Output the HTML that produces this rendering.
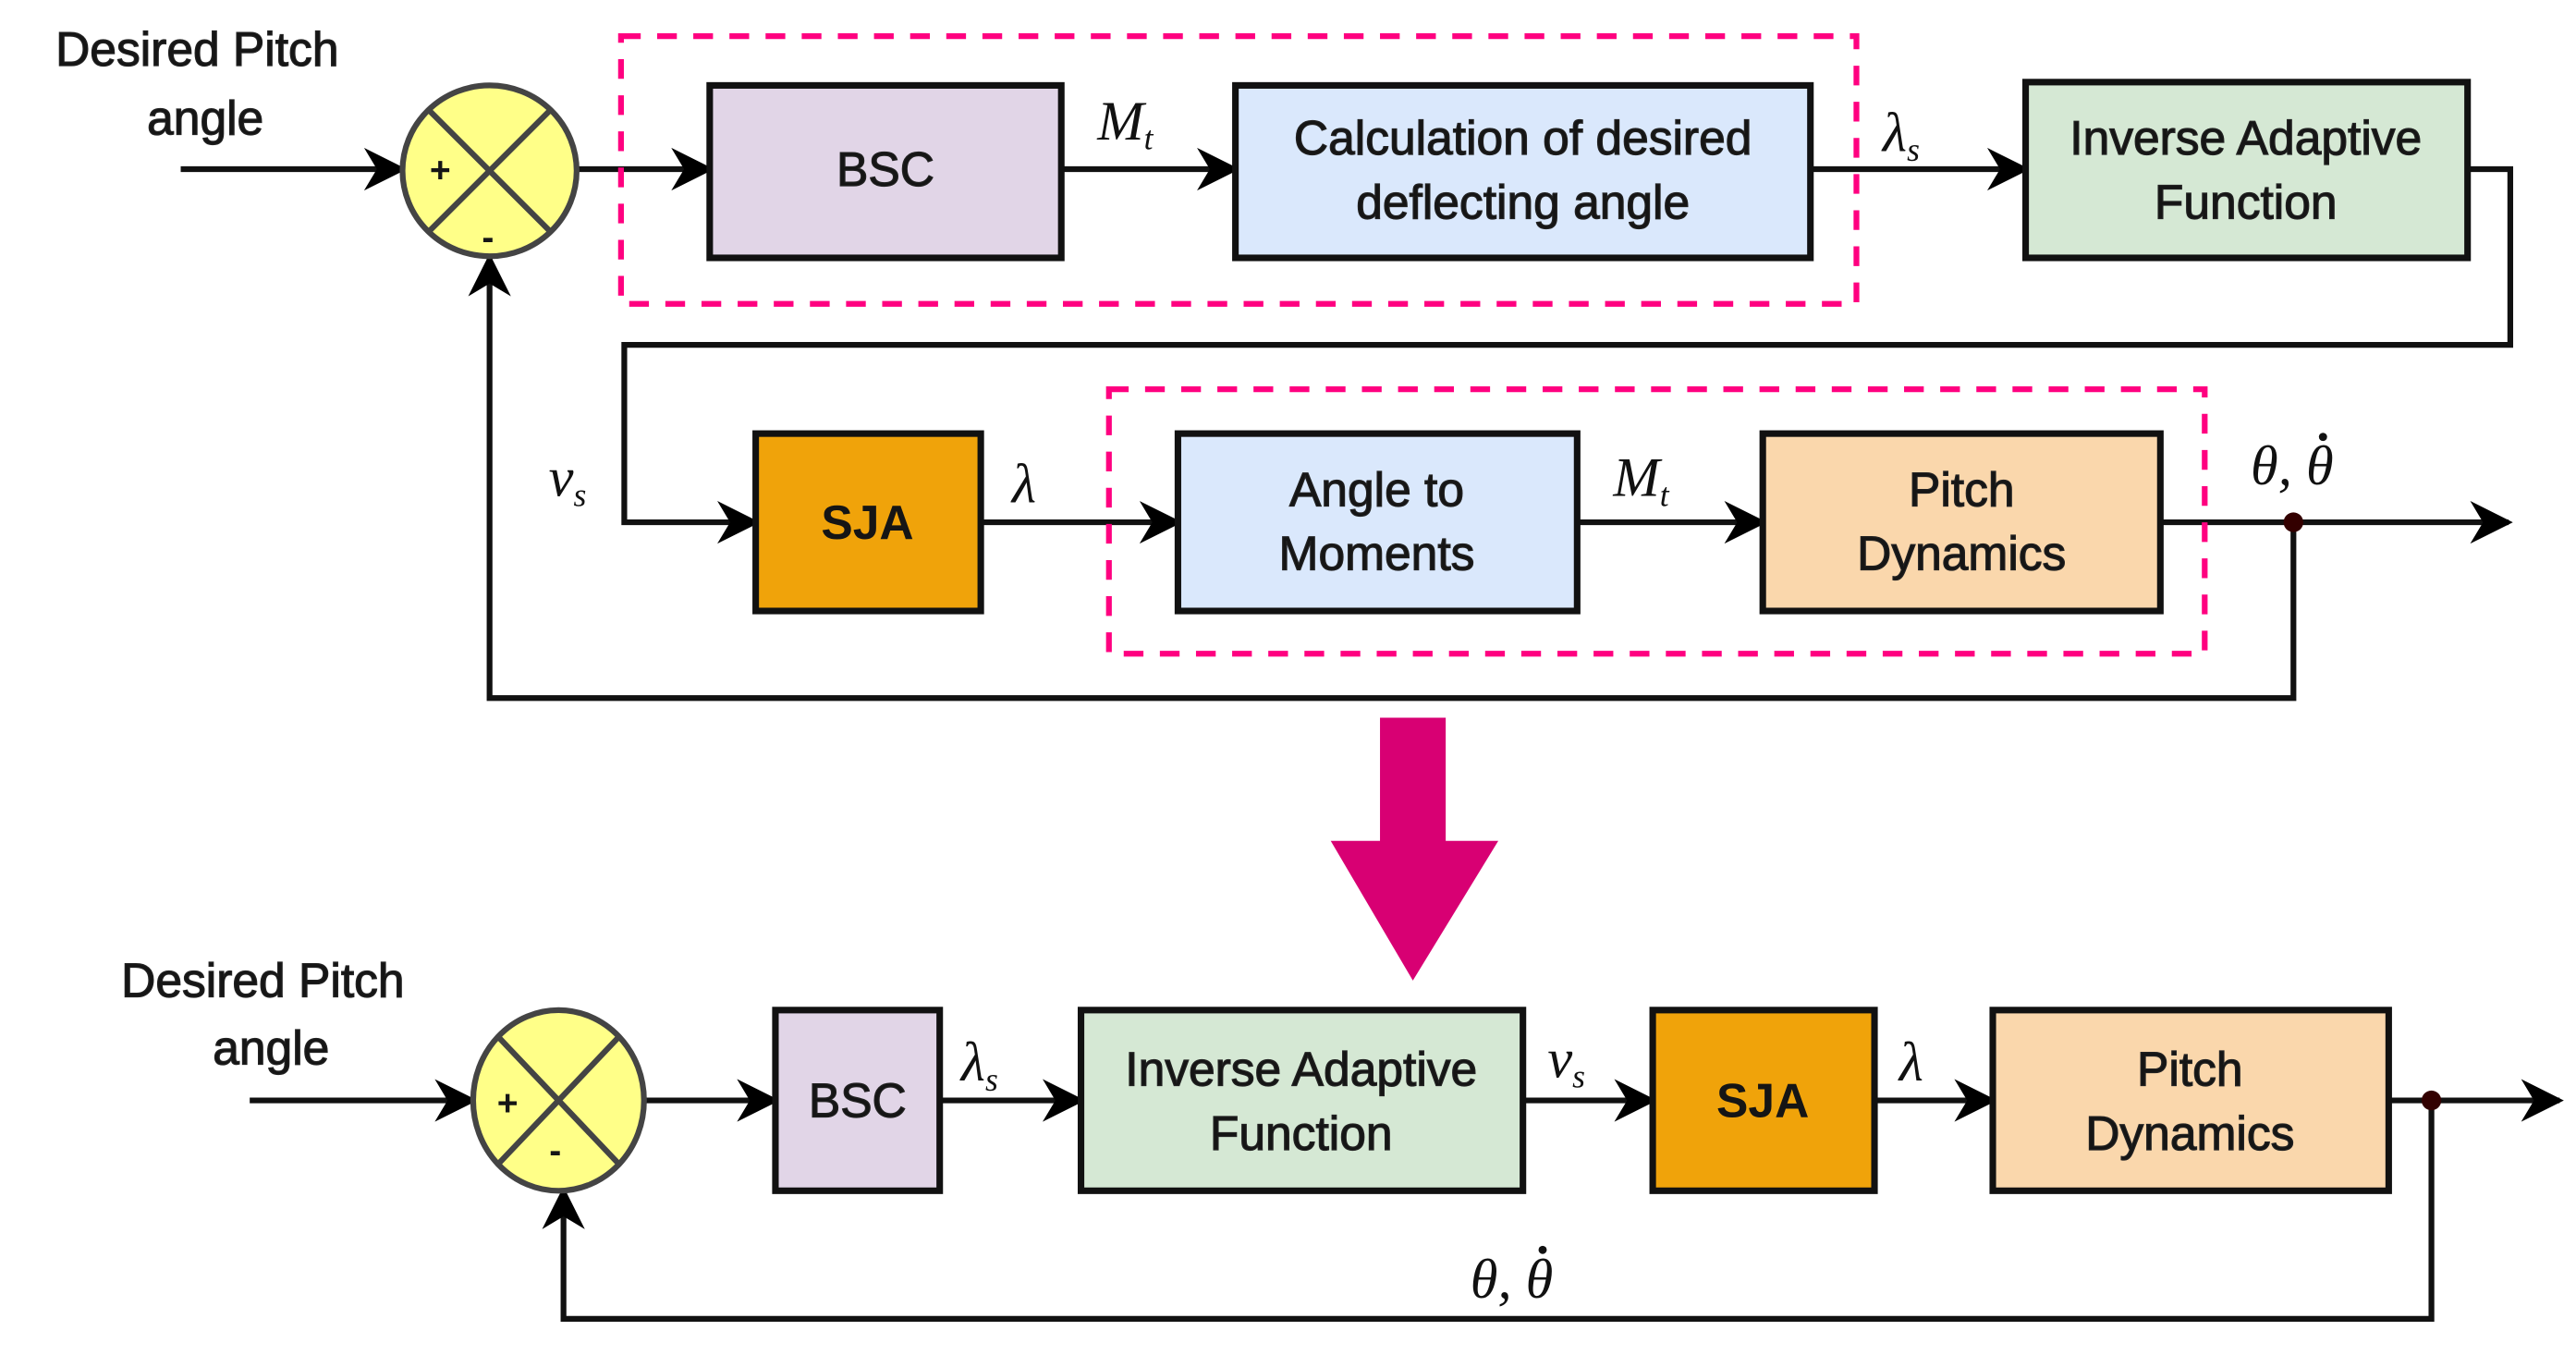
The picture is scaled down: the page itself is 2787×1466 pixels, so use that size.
<!DOCTYPE html>
<html><head><meta charset="utf-8"><style>
html,body{margin:0;padding:0;background:#fff;}
svg{display:block;}
text{font-family:"Liberation Sans",sans-serif;fill:#151515;}
.m{font-family:"Liberation Serif",serif;font-style:italic;fill:#111;}
</style></head><body>
<svg width="2787" height="1466" viewBox="0 0 1568 825" preserveAspectRatio="none" xmlns="http://www.w3.org/2000/svg">
<defs>
<marker id="b" viewBox="0 0 20 20" refX="18" refY="10" markerWidth="26" markerHeight="26" markerUnits="userSpaceOnUse" orient="auto">
<path d="M0,0 L20,10 L0,20 L6,10 Z" fill="#000"/></marker>
</defs>
<g stroke="#111" stroke-width="3.5" fill="none">
<line x1="110" y1="103" x2="245" y2="103" marker-end="url(#b)"/>
<line x1="352" y1="103" x2="432" y2="103" marker-end="url(#b)"/>
<line x1="646" y1="103" x2="752" y2="103" marker-end="url(#b)"/>
<line x1="1102" y1="103" x2="1233" y2="103" marker-end="url(#b)"/>
<polyline points="1502,103 1528,103 1528,210 380,210 380,318 460,318" marker-end="url(#b)"/>
<line x1="597" y1="318" x2="717" y2="318" marker-end="url(#b)"/>
<line x1="960" y1="318" x2="1073" y2="318" marker-end="url(#b)"/>
<line x1="1315" y1="318" x2="1527" y2="318" marker-end="url(#b)"/>
<polyline points="1396,318 1396,425 298,425 298,157" marker-end="url(#b)"/>
<line x1="152" y1="670" x2="288" y2="670" marker-end="url(#b)"/>
<line x1="392" y1="670" x2="472" y2="670" marker-end="url(#b)"/>
<line x1="572" y1="670" x2="658" y2="670" marker-end="url(#b)"/>
<line x1="927" y1="670" x2="1006" y2="670" marker-end="url(#b)"/>
<line x1="1141" y1="670" x2="1213" y2="670" marker-end="url(#b)"/>
<line x1="1454" y1="670" x2="1558" y2="670" marker-end="url(#b)"/>
<polyline points="1480,670 1480,803 343,803 343,725" marker-end="url(#b)"/>
</g>
<g stroke="#ff0080" stroke-width="3.5" fill="none" stroke-dasharray="12,10">
<rect x="378" y="22" width="752" height="163"/>
<rect x="675" y="237" width="667" height="161"/>
</g>
<g stroke="#111" stroke-width="4">
<rect x="432" y="52" width="214" height="105" fill="#e1d5e7"/>
<rect x="752" y="52" width="350" height="105" fill="#dae8fc"/>
<rect x="1233" y="50" width="269" height="107" fill="#d5e8d4"/>
<rect x="460" y="264" width="137" height="108" fill="#f0a30a"/>
<rect x="717" y="264" width="243" height="108" fill="#dae8fc"/>
<rect x="1073" y="264" width="242" height="108" fill="#fad7ac"/>
<rect x="472" y="615" width="100" height="110" fill="#e1d5e7"/>
<rect x="658" y="615" width="269" height="110" fill="#d5e8d4"/>
<rect x="1006" y="615" width="135" height="110" fill="#f0a30a"/>
<rect x="1213" y="615" width="241" height="110" fill="#fad7ac"/>
</g>
<g stroke="#444" stroke-width="3.5">
<ellipse cx="298" cy="104" rx="53" ry="52" fill="#ffff88"/>
<line x1="261" y1="67" x2="335" y2="141"/><line x1="335" y1="67" x2="261" y2="141"/>
<ellipse cx="340" cy="670" rx="52" ry="55" fill="#ffff88"/>
<line x1="303" y1="631" x2="377" y2="709"/><line x1="377" y1="631" x2="303" y2="709"/>
</g>
<g font-size="22" font-weight="bold" text-anchor="middle">
<text x="268" y="111">+</text><text x="297" y="152">-</text>
<text x="309" y="679">+</text><text x="338" y="708">-</text>
</g>
<circle cx="1396" cy="318" r="6" fill="#300"/>
<circle cx="1480" cy="670" r="6" fill="#300"/>
<path d="M840,437 L880,437 L880,512 L912,512 L860,597 L810,512 L840,512 Z" fill="#d80073"/>
<g font-size="29" text-anchor="middle" fill="#222" stroke="#222" stroke-width="0.7">
<text x="539" y="113">BSC</text>
<text x="927" y="94">Calculation of desired</text>
<text x="927" y="133">deflecting angle</text>
<text x="1367" y="94">Inverse Adaptive</text>
<text x="1367" y="133">Function</text>
<text x="528" y="328" font-weight="bold" stroke-width="0">SJA</text>
<text x="838" y="308">Angle to</text>
<text x="838" y="347">Moments</text>
<text x="1194" y="308">Pitch</text>
<text x="1194" y="347">Dynamics</text>
<text x="522" y="680">BSC</text>
<text x="792" y="661">Inverse Adaptive</text>
<text x="792" y="700">Function</text>
<text x="1073" y="680" font-weight="bold" stroke-width="0">SJA</text>
<text x="1333" y="661">Pitch</text>
<text x="1333" y="700">Dynamics</text>
<text x="120" y="40">Desired Pitch</text>
<text x="125" y="82">angle</text>
<text x="160" y="607">Desired Pitch</text>
<text x="165" y="648">angle</text>
</g>
<g font-size="34" class="m">
<text x="668" y="85" class="m">M<tspan font-size="20" dy="6">t</tspan></text>
<text x="1146" y="92" class="m">λ<tspan font-size="20" dy="6">s</tspan></text>
<text x="334" y="302" class="m">v<tspan font-size="20" dy="6">s</tspan></text>
<text x="616" y="306" class="m">λ</text>
<text x="982" y="302" class="m">M<tspan font-size="20" dy="6">t</tspan></text>
<text x="1370" y="295" class="m">θ,  θ</text>
<text x="585" y="658" class="m">λ<tspan font-size="20" dy="6">s</tspan></text>
<text x="942" y="656" class="m">v<tspan font-size="20" dy="6">s</tspan></text>
<text x="1156" y="658" class="m">λ</text>
<text x="895" y="790" class="m">θ,  θ</text>
</g>
<circle cx="1414" cy="266" r="2.5" fill="#111"/>
<circle cx="939" cy="761" r="2.5" fill="#111"/>
</svg>
</body></html>
